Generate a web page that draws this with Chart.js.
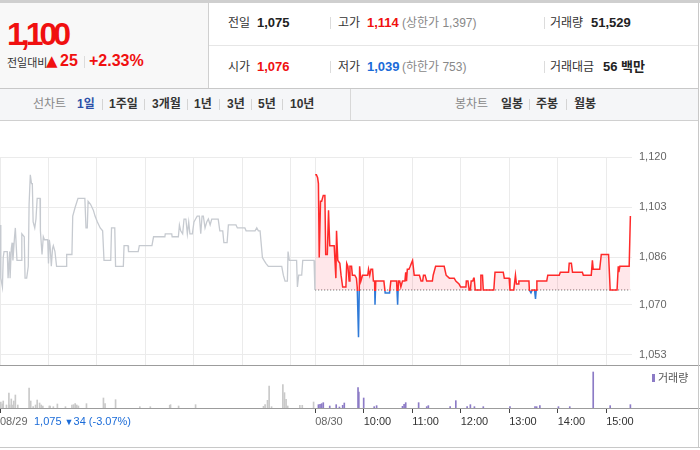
<!DOCTYPE html>
<html lang="ko">
<head>
<meta charset="utf-8">
<script src="https://cdn.jsdelivr.net/npm/chart.js@4.4.1/dist/chart.umd.min.js"></script>
<style>
  * { box-sizing: border-box; }
  body { margin: 0; background: #fff; font-family: "Liberation Sans", Arial, "Noto Sans CJK KR", sans-serif; }
  #wrap { position: relative; width: 700px; height: 450px; overflow: hidden; }
  .a { position: absolute; white-space: nowrap; }
  .lbl { font-size: 12px; color: #333; }
  .num { font-size: 13px; font-weight: bold; color: #222; }
  .sub { font-size: 12px; color: #888; }
  .up { color: #f01010; }
  .down { color: #1a6bd8; }
  .vbar { position: absolute; width: 1px; height: 12px; background: #dcdcdc; }
  .tab { font-size: 12px; font-weight: bold; color: #333; line-height: 32px; top: 88px; }
  .tabsep { position: absolute; width: 1px; height: 11px; top: 99px; background: #d4d4d4; }
  .hline { position: absolute; left: 0; width: 700px; height: 1px; }
  canvas { position: absolute; left: 0; }
</style>
</head>
<body>
<div id="wrap">
  <!-- header -->
  <div class="a" style="left:0;top:0;width:700px;height:3px;background:#cfcfcf"></div>
  <div class="a" style="left:0;top:3px;width:209px;height:85px;background:#f8f8f8;border-right:1px solid #d0d0d0"></div>
  <div class="a up" style="left:7px;top:18px;font-size:32px;line-height:32px;font-weight:bold;letter-spacing:-4px">1,100</div>
  <div class="a" style="left:7px;top:54px;line-height:16px">
    <span style="font-size:11px;color:#333">전일대비</span>
  </div>
  <div class="a up" style="left:46px;top:52px;font-size:15px;line-height:18px;font-family:'DejaVu Sans'">▲</div>
  <div class="a up" style="left:60px;top:52px;font-size:16px;line-height:18px;font-weight:bold">25</div>
  <div class="vbar" style="left:84px;top:56px"></div>
  <div class="a up" style="left:89px;top:52px;font-size:16px;line-height:18px;font-weight:bold">+2.33%</div>

  <div class="a" style="left:209px;top:45px;width:490px;height:1px;background:#e6e6e6"></div>

  <div class="a lbl" style="left:228px;top:15px;line-height:16px">전일</div>
  <div class="a num" style="left:257px;top:15px;line-height:16px">1,075</div>
  <div class="vbar" style="left:330px;top:17px"></div>
  <div class="a lbl" style="left:338px;top:15px;line-height:16px">고가</div>
  <div class="a num up" style="left:367px;top:15px;line-height:16px">1,114</div>
  <div class="a sub" style="left:402px;top:15px;line-height:16px">(상한가 1,397)</div>
  <div class="vbar" style="left:544px;top:17px"></div>
  <div class="a lbl" style="left:550px;top:15px;line-height:16px">거래량</div>
  <div class="a num" style="left:591px;top:15px;line-height:16px">51,529</div>

  <div class="a lbl" style="left:228px;top:59px;line-height:16px">시가</div>
  <div class="a num up" style="left:257px;top:59px;line-height:16px">1,076</div>
  <div class="vbar" style="left:330px;top:61px"></div>
  <div class="a lbl" style="left:338px;top:59px;line-height:16px">저가</div>
  <div class="a num down" style="left:367px;top:59px;line-height:16px">1,039</div>
  <div class="a sub" style="left:402px;top:59px;line-height:16px">(하한가 753)</div>
  <div class="vbar" style="left:544px;top:61px"></div>
  <div class="a lbl" style="left:550px;top:59px;line-height:16px">거래대금</div>
  <div class="a num" style="left:603px;top:59px;line-height:16px">56 백만</div>

  <!-- tab bar -->
  <div class="a" style="left:0;top:88px;width:699px;height:33px;background:#f5f6f8;border-top:1px solid #c8c8c8;border-bottom:1px solid #d0d0d0"></div>
  <div class="a" style="left:350px;top:89px;width:1px;height:31px;background:#d8d8d8"></div>
  <div class="a tab" style="left:33px;color:#888;font-weight:normal">선차트</div>
  <div class="a tab" style="left:77px;color:#2d50a8">1일</div>
  <div class="tabsep" style="left:102px"></div>
  <div class="a tab" style="left:109px">1주일</div>
  <div class="tabsep" style="left:144px"></div>
  <div class="a tab" style="left:152px">3개월</div>
  <div class="tabsep" style="left:187px"></div>
  <div class="a tab" style="left:194px">1년</div>
  <div class="tabsep" style="left:219px"></div>
  <div class="a tab" style="left:227px">3년</div>
  <div class="tabsep" style="left:251px"></div>
  <div class="a tab" style="left:258px">5년</div>
  <div class="tabsep" style="left:282px"></div>
  <div class="a tab" style="left:290px">10년</div>
  <div class="a tab" style="left:455px;color:#888;font-weight:normal">봉차트</div>
  <div class="a tab" style="left:501px">일봉</div>
  <div class="tabsep" style="left:529px"></div>
  <div class="a tab" style="left:536px">주봉</div>
  <div class="tabsep" style="left:566px"></div>
  <div class="a tab" style="left:574px">월봉</div>

  <!-- charts -->
  <canvas id="priceChart" width="700" height="215" style="top:150px"></canvas>
  <canvas id="volChart" width="700" height="82" style="top:365px"></canvas>
  <div class="hline" style="top:365px;background:#9c9c9c"></div>
  <div class="hline" style="top:408px;background:#9c9c9c"></div>
  <div class="hline" style="top:447px;background:#c8c8c8"></div>
  <div class="a" style="left:698px;top:3px;width:1px;height:445px;background:#c8c8c8"></div>

  <div class="a down" style="left:34px;top:414px;font-size:11px;line-height:14px">1,075 <span style="font-size:9px">▼</span>34 (-3.07%)</div>
  <div class="a" style="left:652px;top:374px;width:3px;height:8px;background:#8c7bc6"></div>
  <div class="a" style="left:658px;top:371px;font-size:11px;line-height:14px;color:#555">거래량</div>
</div>

<script>
// minute index: 0 = 08/29 09:00, 390 = 08/30 09:00 (overnight gap collapsed)
const prevClose = 1075;

const prevDayPrice = [
  [0,1097],[1,1079],[3,1076],[4,1086],[5,1088],[9,1088],[10,1079],[12,1088],[12.5,1079],[14,1089],
  [15,1091],[16,1085],[18,1093],[19,1096],[21,1085],[26,1085],[27,1094],[30,1093],[31,1079],[33,1079],
  [35,1083],[36,1104],[37.5,1114],[39,1111],[40,1111],[41,1098],[43,1096],[44.5,1099],[46,1106],[49.5,1106],
  [50,1095],[52,1087],[53.6,1093],[55,1092],[59,1092],[60,1084],[61,1092],[62,1090],[63.5,1083],[65,1089],
  [66,1090],[68,1088],[70,1083],[82,1083],[82.5,1087],[89,1087],[90,1100],[93,1103],[96.5,1106],[105,1106],
  [106.4,1096],[108,1096],[109,1105],[112,1104],[115.5,1102],[117.6,1100],[120.5,1098],[124,1096],[127,1095],[128.7,1085],
  [137,1085],[138,1096],[142,1096],[143,1083],[152.6,1083],[153.5,1090],[158.4,1090],[159,1088],[171,1088],[172.4,1090],
  [188,1090],[190,1093],[204,1093],[204.5,1094],[212.5,1094],[213,1093],[220.7,1093],[222,1097],[223.6,1095],[226,1094],
  [227.7,1099],[230,1099],[231.8,1094],[233.5,1098],[235,1094],[238,1094],[240,1098],[242,1099],[244,1100],[246.7,1100],
  [248.4,1094],[250,1100],[251.6,1100],[253.7,1096],[255.8,1098],[257.8,1099],[260,1097],[262,1099],[270,1099],[272,1095],
  [275.6,1095],[277,1091],[281,1091],[282.6,1097],[292,1097],[293.7,1096],[303,1096],[304.5,1095],[315.6,1095],[317.7,1096],
  [319.7,1095],[321.8,1095],[324.7,1086],[326.7,1085],[329,1084],[332,1083],[348.6,1083],[350.6,1080],[352.7,1078],[355.6,1078],
  [356.4,1088],[358,1085],[367,1085],[368,1076],[369.6,1080],[373.3,1080],[374.6,1085],[388.6,1085],[389.6,1075]
];

const todayPrice = [
  [390,1114],[391.5,1114],[393,1113],[394,1111],[395,1086],[396.6,1105],[398,1105],[400,1107],[402,1107],[403,1087],
  [405,1087],[406.5,1102],[408,1090],[413.5,1090],[415.6,1079],[416.4,1095],[418,1085],[420.5,1084],[422,1080],[424,1076],
  [428,1076],[429,1084],[430.5,1083],[432,1078],[433,1083],[435,1083],[436,1080],[439,1080],[441,1079],[442,1076],
  [443.6,1059],[445,1083],[446.5,1078],[448.6,1080],[455,1080],[456,1082],[457.5,1080],[459,1082],[461,1082],[462,1078],
  [463.5,1078],[464,1070],[465,1078],[475,1078],[476.6,1074],[482,1074],[483.6,1078],[490.7,1078],[492,1070],[493,1078],
  [494.6,1078],[496,1076],[498,1078],[501,1078],[502,1081],[503,1078],[504,1082],[506,1082],[507.6,1083],[509,1084],
  [510.5,1085],[512.5,1080],[519,1080],[521,1078],[523,1078],[524,1080],[526,1080],[528,1078],[535,1078],[536,1080],
  [539,1083],[549.6,1083],[552,1080],[556,1079],[562,1079],[564,1078],[568,1077],[570,1076],[576.5,1076],[577,1078],
  [579,1078],[580.6,1075],[582,1075],[583,1078],[585,1078],[586,1079],[586.7,1079],[588,1075],[594,1075],[595,1080],
  [597,1080],[598,1075],[611,1075],[612.5,1081],[622.7,1081],[624,1079],[630,1079],[631,1075],[635.7,1075],[637.8,1080],
  [639,1077],[641,1077],[642,1078],[654.5,1078],[655,1075],[657,1074],[658.6,1075],[661.4,1075],[662.6,1072],[663.5,1075],
  [664.3,1078],[676.5,1078],[677.8,1080],[692,1080],[693.3,1081],[703.5,1081],[704.3,1084],[707,1084],[708.4,1081],[720.6,1081],
  [721.8,1080],[731.6,1080],[733,1085],[734,1082],[742,1082],[744,1087],[753,1087],[755,1075],[763.5,1075],[765,1083],
  [765.7,1081],[767,1083],[778.5,1083],[780,1100]
];

const prevDayVolume = [
  [1,1800],[3,1200],[4,2100],[8,900],[11,4500],[12,900],[14,2700],[16,900],[17,2100],[19,3900],
  [22,900],[36,6000],[38,2100],[41,400],[44,900],[46,2400],[49,1500],[51,900],[53,600],[61,600],
  [62,600],[66,400],[71,1200],[81,400],[89,900],[91,1000],[93,1300],[95,900],[97,600],[107,1300],
  [128,3000],[130,1300],[143,2500],[173,400],[186,400],[210,800],[211,1000],[221,600],[242,1000],[326,500],
  [328,1000],[331,2300],[333,6600],[336,400],[350,7000],[352,4600],[354,2600],[356,600],[371,800],[374,800],
  [388,1800]
];

const todayVolume = [
  [394,1000],[396,1100],[398,1300],[400,1600],[408,600],[416,1000],[420,300],[424,800],[426,1500],[443,6100],
  [444,4800],[450,3000],[463,400],[466,700],[498,500],[500,1100],[502,1600],[518,1600],[528,400],[530,700],
  [557,400],[564,2200],[578,400],[582,1000],[587,400],[598,400],[631,400],[662,400],[664,400],[668,700],
  [691,400],[705,400],[734,10800],[755,700],[780,1000]
];

const yTickValues = [1053, 1070, 1086, 1103, 1120];
const yTickLabels = ['1,053', '1,070', '1,086', '1,103', '1,120'];
const gridMinutes = [0, 60, 120, 180, 240, 300, 360, 390, 450, 510, 570, 630, 690, 750];
const timeTickMinutes = [0, 390, 450, 510, 570, 630, 690, 750];
const timeTickLabels = ['08/29', '08/30', '10:00', '11:00', '12:00', '13:00', '14:00', '15:00'];

const upColor = '#ff2a2a';
const downColor = '#2f7ad8';

const toXY = arr => arr.map(d => ({ x: d[0], y: d[1] }));

// red above the previous close, blue below it
function splitColor(context) {
  const chart = context.chart;
  const area = chart.chartArea;
  if (!area) return upColor;
  const y0 = chart.scales.y.getPixelForValue(prevClose) + 1.5;
  const f = Math.min(Math.max((y0 - area.top) / (area.bottom - area.top), 0), 1);
  const g = chart.ctx.createLinearGradient(0, area.top, 0, area.bottom);
  g.addColorStop(0, upColor);
  g.addColorStop(f, upColor);
  g.addColorStop(f, downColor);
  g.addColorStop(1, downColor);
  return g;
}

// keep the plot box exactly where the canvas says
function noPad(s) {
  s.paddingTop = 0;
  s.paddingBottom = 0;
  s.paddingLeft = 0;
  s.paddingRight = 0;
}

const tickFont = { family: 'Liberation Sans', size: 11 };

new Chart(document.getElementById('priceChart'), {
  type: 'line',
  data: {
    datasets: [
      {
        data: toXY(prevDayPrice),
        borderColor: '#c6cad0',
        borderWidth: 1.3,
        pointRadius: 0,
        fill: false
      },
      {
        data: toXY(todayPrice),
        borderColor: splitColor,
        borderWidth: 1.5,
        pointRadius: 0,
        fill: {
          target: { value: prevClose },
          above: 'rgba(255, 60, 80, 0.12)',
          below: 'rgba(40, 110, 220, 0.08)'
        }
      },
      {
        data: [{ x: 390, y: prevClose }, { x: 780, y: prevClose }],
        borderColor: '#555',
        borderWidth: 1,
        borderDash: [1, 2],
        pointRadius: 0,
        fill: false
      }
    ]
  },
  options: {
    responsive: false,
    animation: false,
    layout: { padding: { top: 7, left: 0, right: 0, bottom: 0 } },
    plugins: { legend: { display: false }, tooltip: { enabled: false } },
    scales: {
      x: {
        type: 'linear',
        min: 0,
        max: 782,
        afterBuildTicks: s => { s.ticks = gridMinutes.map(v => ({ value: v })); },
        ticks: { display: false },
        grid: { color: '#ebebeb', drawTicks: false },
        border: { display: false },
        afterFit: s => { s.height = 0; noPad(s); }
      },
      y: {
        position: 'right',
        min: 1049.6,
        max: 1120,
        afterBuildTicks: s => { s.ticks = yTickValues.map(v => ({ value: v })); },
        ticks: {
          padding: 7,
          color: '#666',
          font: tickFont,
          callback: (v, i) => yTickLabels[i]
        },
        grid: { color: '#ebebeb', drawTicks: false },
        border: { display: false },
        afterFit: s => { s.width = 68; noPad(s); }
      }
    }
  }
});

new Chart(document.getElementById('volChart'), {
  type: 'bar',
  data: {
    datasets: [
      { data: toXY(prevDayVolume), backgroundColor: '#c9c9c9', barThickness: 1, grouped: false },
      { data: toXY(todayVolume), backgroundColor: '#8c7bc6', barThickness: 1, grouped: false }
    ]
  },
  options: {
    responsive: false,
    animation: false,
    layout: { padding: { top: 0, left: 0, right: 68, bottom: 0 } },
    plugins: { legend: { display: false }, tooltip: { enabled: false } },
    scales: {
      x: {
        type: 'linear',
        min: 0,
        max: 782,
        offset: false,
        afterBuildTicks: s => { s.ticks = timeTickMinutes.map(v => ({ value: v })); },
        ticks: {
          align: 'start',
          padding: 2,
          maxRotation: 0,
          autoSkip: false,
          color: ctx => ctx.index < 2 ? '#666' : '#333',
          font: tickFont,
          callback: (v, i) => timeTickLabels[i]
        },
        grid: { drawOnChartArea: false, drawTicks: true, tickLength: 5, tickColor: '#444', offset: false },
        border: { display: false },
        afterFit: s => { s.height = 39; noPad(s); }
      },
      y: { display: false, min: 0, max: 12900 }
    }
  }
});
</script>
</body>
</html>
